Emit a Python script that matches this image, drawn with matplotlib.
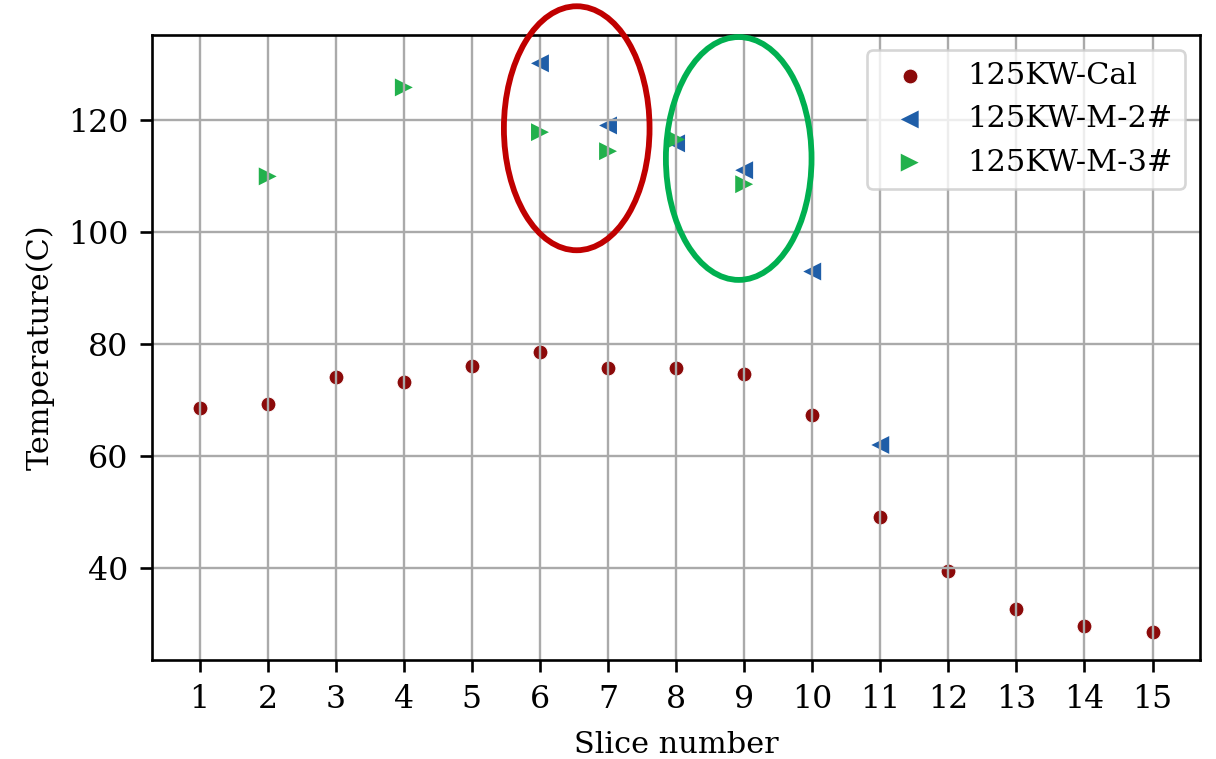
import numpy as np
import matplotlib
matplotlib.use("Agg")
import matplotlib.pyplot as plt
from matplotlib.patches import Ellipse

plt.rcParams['font.family'] = ['DejaVu Serif']

slices = list(range(1, 16))
cal = [68.6, 69.3, 74.1, 73.2, 76.1, 78.6, 75.7, 75.7, 74.6, 67.3, 49.1, 39.5, 32.7, 29.6, 28.6]

m2_x = [6, 7, 8, 9, 10, 11]
m2_y = [130.2, 119.1, 115.9, 111.1, 93.0, 62.0]

m3_x = [2, 4, 6, 7, 8, 9]
m3_y = [110.0, 125.9, 117.9, 114.5, 116.6, 108.6]

fig = plt.figure(figsize=(1216/190, 759/190), dpi=190)
ax = fig.add_axes([0.125, 0.130, 0.862, 0.824])

ax.scatter(slices, cal, s=32, color='#8b0a0a', edgecolor='white', linewidth=0.4, label='125KW-Cal')
ax.scatter(m2_x, m2_y, s=46, marker='<', color='#1f5ea8', edgecolor='none', label='125KW-M-2#')
ax.scatter(m3_x, m3_y, s=46, marker='>', color='#22b14c', edgecolor='none', label='125KW-M-3#')

ax.set_xticks(slices)
ax.tick_params(labelsize=12, length=4.5, width=1.0, pad=4.5)
for sp in ax.spines.values():
    sp.set_linewidth(1.0)
ax.grid(True, color='#aaaaaa', linewidth=0.9)
ax.set_xlabel('Slice number', fontsize=11.5, labelpad=6)
ax.set_ylabel('Temperature(C)', fontsize=11.5, labelpad=5)
ax.legend(loc='upper right', fontsize=11.5, handletextpad=0.9)

# highlight rings
ax.add_patch(Ellipse((6.54, 118.6), 2.14, 43.6, fill=False, edgecolor='#c00000', linewidth=2.2, clip_on=False, zorder=5))
ax.add_patch(Ellipse((8.92, 113.2), 2.14, 43.4, fill=False, edgecolor='#00b050', linewidth=2.2, clip_on=False, zorder=5))

fig.savefig('out.png', dpi=190)
